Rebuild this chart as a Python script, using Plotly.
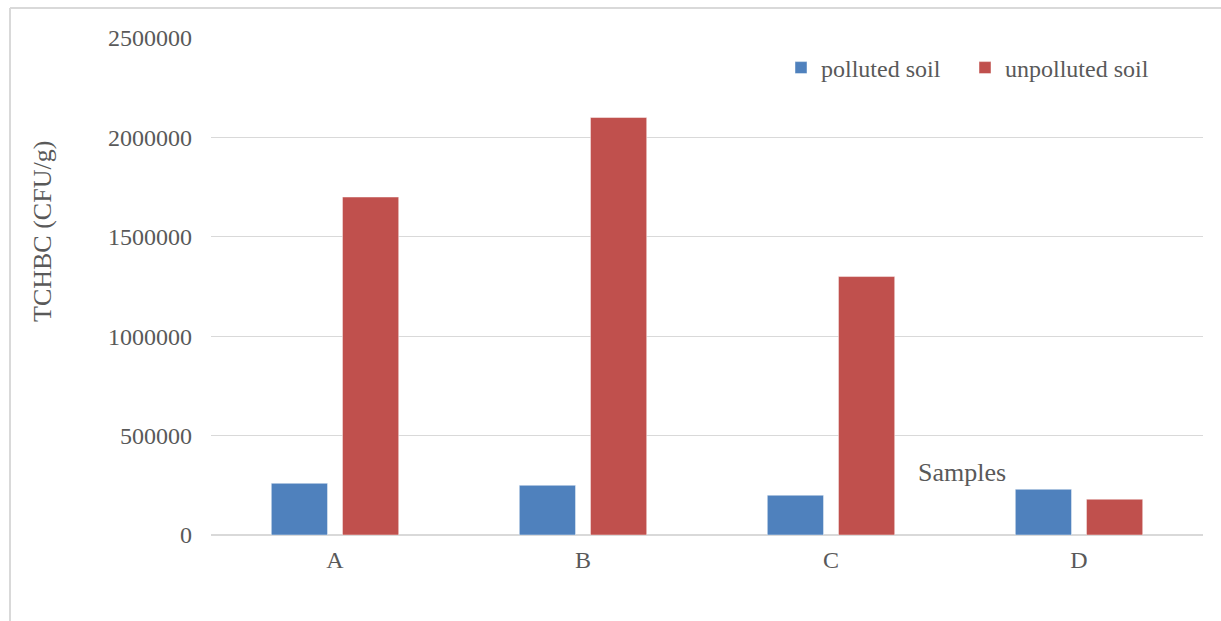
import plotly.graph_objects as go

# Total culturable heterotrophic bacterial counts per sample
samples = ["A", "B", "C", "D"]
polluted_soil = [260000, 250000, 200000, 230000]
unpolluted_soil = [1700000, 2100000, 1300000, 180000]
y_ticks = [0, 500000, 1000000, 1500000, 2000000, 2500000]

FONT = "Liberation Serif, Times New Roman, serif"
TEXT = "#595959"
GRID = "#d9d9d9"

fig = go.Figure()
fig.add_trace(go.Bar(
    x=samples, y=polluted_soil, name="polluted soil",
    marker=dict(color="#4F81BD", line=dict(color="rgba(255,255,255,0.45)", width=1)),
))
fig.add_trace(go.Bar(
    x=samples, y=unpolluted_soil, name="unpolluted soil",
    marker=dict(color="#C0504D", line=dict(color="rgba(255,255,255,0.45)", width=1)),
))

L, R, T, B = 211, 18, 38, 86
W, H = 1221, 621
pw, ph = W - L - R, H - T - B


def px_x(p):
    return (p - L) / pw


def px_y(p):
    return (H - B - p) / ph


fig.update_layout(
    width=W, height=H,
    margin=dict(l=L, r=R, t=T, b=B, pad=0),
    paper_bgcolor="white", plot_bgcolor="white",
    font=dict(family=FONT, size=24, color=TEXT),
    barmode="group", bargap=0.426, bargroupgap=0.21,
    showlegend=True,
    legend=dict(
        orientation="h", x=px_x(781), xanchor="left",
        y=px_y(68), yanchor="middle",
        font=dict(family=FONT, size=24, color=TEXT),
        entrywidth=139, entrywidthmode="pixels",
        bgcolor="rgba(0,0,0,0)", itemclick=False,
    ),
    xaxis=dict(
        showgrid=False, showline=False, ticks="",
        tickfont=dict(family=FONT, size=24, color=TEXT),
        ticklabelstandoff=8,
    ),
    yaxis=dict(
        range=[0, 2500000], tickvals=y_ticks,
        ticktext=[str(v) for v in y_ticks],
        showgrid=True, gridcolor=GRID, gridwidth=1,
        zeroline=True, zerolinecolor=GRID, zerolinewidth=1.5,
        showline=False, ticks="",
        tickfont=dict(family=FONT, size=24, color=TEXT),
        ticklabelstandoff=18,
    ),
    annotations=[
        dict(text="TCHBC (CFU/g)", xref="paper", yref="paper",
             x=px_x(42), y=px_y(232), xanchor="center", yanchor="middle",
             textangle=-90, showarrow=False,
             font=dict(family=FONT, size=26, color=TEXT)),
        dict(text="Samples", xref="paper", yref="paper",
             x=px_x(962), y=px_y(472), xanchor="center", yanchor="middle",
             showarrow=False,
             font=dict(family=FONT, size=26, color=TEXT)),
    ],
    shapes=[
        dict(type="line", xref="paper", yref="paper",
             x0=px_x(10), x1=px_x(10), y0=px_y(8), y1=px_y(640),
             line=dict(color=GRID, width=2)),
        dict(type="line", xref="paper", yref="paper",
             x0=px_x(10), x1=px_x(1240), y0=px_y(8), y1=px_y(8),
             line=dict(color=GRID, width=2)),
    ],
)

fig.write_html("out.html")
